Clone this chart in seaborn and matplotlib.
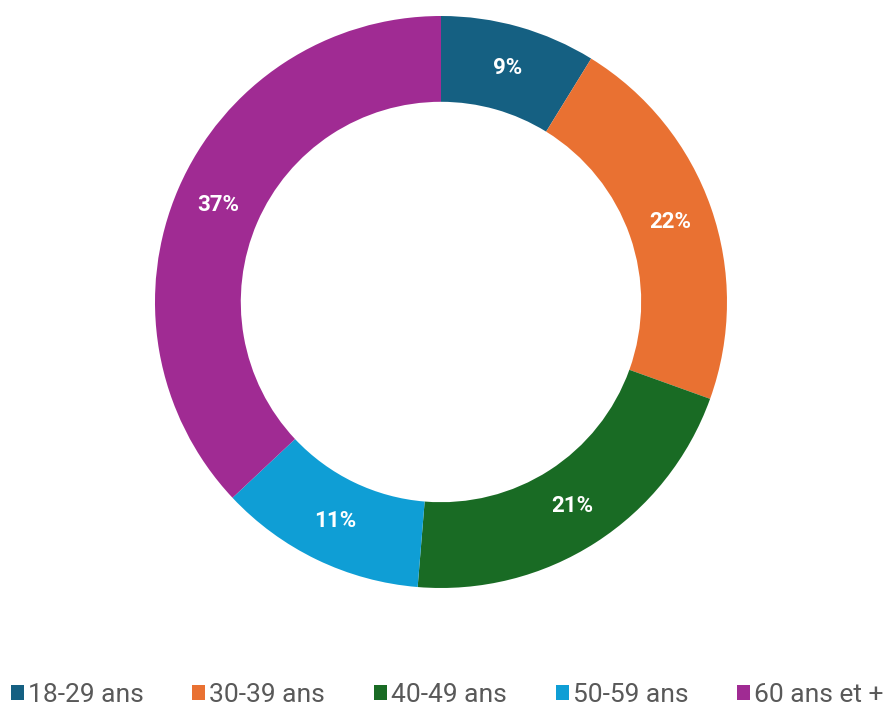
import matplotlib
matplotlib.use("Agg")
import matplotlib.pyplot as plt
import seaborn as sns

groups = ["18-29 ans", "30-39 ans", "40-49 ans", "50-59 ans", "60 ans et +"]
shares = [8.8, 21.7, 20.8, 11.7, 37.0]
share_labels = ["9%", "22%", "21%", "11%", "37%"]
colors = ["#156082", "#E97132", "#196B24", "#0F9ED5", "#A02B93"]

sns.set_theme(style="white")
plt.rcParams["font.family"] = ["Roboto", "DejaVu Sans"]

fig = plt.figure(figsize=(8.89, 7.11), dpi=100)
ax = fig.add_axes([0.1732, 0.173, 0.6457, 0.8045])

wedges, texts = ax.pie(
    shares,
    colors=sns.color_palette(colors),
    startangle=90,
    counterclock=False,
    radius=1,
    labels=share_labels,
    labeldistance=0.85,
    wedgeprops=dict(width=0.3, edgecolor="none"),
)
for t in texts:
    t.set_color("white")
    t.set_fontsize(16)
    t.set_fontweight("bold")
    t.set_horizontalalignment("center")
    t.set_verticalalignment("center")

ax.set_xlim(-1, 1)
ax.set_ylim(-1, 1)
ax.set_aspect("equal")

fig.legend(
    wedges, groups,
    loc="center", bbox_to_anchor=(0.503, 0.023),
    ncol=5, frameon=False, fontsize=19,
    handlelength=0.5, handleheight=0.5, handletextpad=0.15,
    columnspacing=1.85, labelcolor="#595959",
    borderpad=0, borderaxespad=0,
)

fig.savefig("out.png", dpi=100, facecolor="white")
